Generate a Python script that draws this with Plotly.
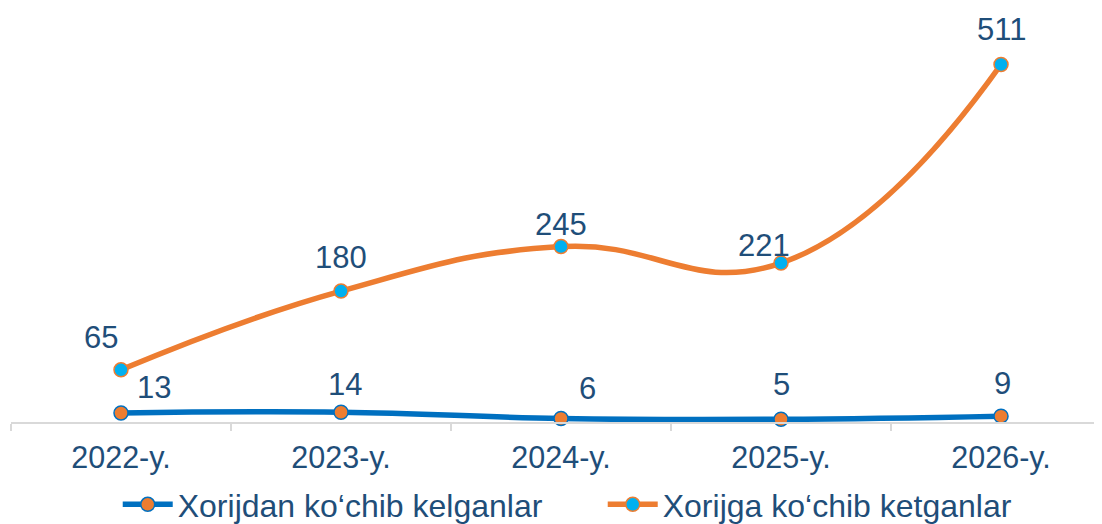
import plotly.graph_objects as go

categories = ["2022-y.", "2023-y.", "2024-y.", "2025-y.", "2026-y."]
arrived = [13, 14, 6, 5, 9]          # Xorijdan ko‘chib kelganlar
departed = [65, 180, 245, 221, 511]  # Xorijga ko‘chib ketganlar

name_arrived = "Xorijdan ko‘chib kelganlar"
name_departed = "Xorijga ko‘chib ketganlar"

# label offsets (pixels) relative to the points
arr_dx = [33, 4, 26, 0, 1]
arr_dy = [26, 28, 30, 35, 33]
dep_dx = [-20, 0, 0, -17, 0]
dep_dy = [32, 34, 22, 18, 35]

TEXT = "#1F4E79"
ORANGE = "#ED7D31"
BLUE = "#0070C0"
CYAN = "#00B0F0"
FONT = "Liberation Sans, Arial, sans-serif"

fig = go.Figure()
fig.add_trace(go.Scatter(
    x=categories, y=arrived, name=name_arrived, mode="lines+markers",
    line=dict(color=BLUE, width=5.5, shape="spline", smoothing=1.2),
    marker=dict(size=14, color=ORANGE, line=dict(color=BLUE, width=1.5)),
    yaxis="y2", cliponaxis=False,
))
fig.add_trace(go.Scatter(
    x=categories, y=departed, name=name_departed, mode="lines+markers",
    line=dict(color=ORANGE, width=5.5, shape="spline", smoothing=1.3),
    marker=dict(size=14, color=CYAN, line=dict(color=ORANGE, width=1.5)),
    yaxis="y", cliponaxis=False,
))

for c, v, dx, dy in zip(categories, arrived, arr_dx, arr_dy):
    fig.add_annotation(x=c, y=v, yref="y2", text=str(v), showarrow=False,
                       xshift=dx, yshift=dy, font=dict(size=31, color=TEXT, family=FONT))
for c, v, dx, dy in zip(categories, departed, dep_dx, dep_dy):
    fig.add_annotation(x=c, y=v, yref="y", text=str(v), showarrow=False,
                       xshift=dx, yshift=dy, font=dict(size=31, color=TEXT, family=FONT))

fig.update_layout(
    width=1094, height=524,
    margin=dict(l=3, r=0, t=2, b=110),
    paper_bgcolor="white", plot_bgcolor="white",
    font=dict(family=FONT, color=TEXT),
    xaxis=dict(
        type="category", range=[-0.5, 4.459], tickson="boundaries",
        showline=True, linecolor="#D9D9D9", linewidth=1.5,
        ticks="outside", ticklen=7, tickcolor="#D9D9D9", tickwidth=1.5,
        showgrid=False, automargin=False, ticklabelstandoff=8,
        tickfont=dict(size=30.5, color=TEXT, family=FONT),
    ),
    yaxis=dict(range=[-11.2, 590.6], visible=False, showgrid=False, zeroline=False,
               automargin=False),
    yaxis2=dict(range=[1.5, 527.7], overlaying="y", visible=False, showgrid=False,
                zeroline=False, automargin=False),
    showlegend=True,
    legend=dict(orientation="h", xref="container", x=0.1003, xanchor="left",
                yref="container", y=0.0, yanchor="bottom",
                bgcolor="rgba(0,0,0,0)",
                font=dict(size=32, color=TEXT, family=FONT), traceorder="normal",
                itemwidth=50, entrywidth=420),
)

fig.write_html("out.html")
